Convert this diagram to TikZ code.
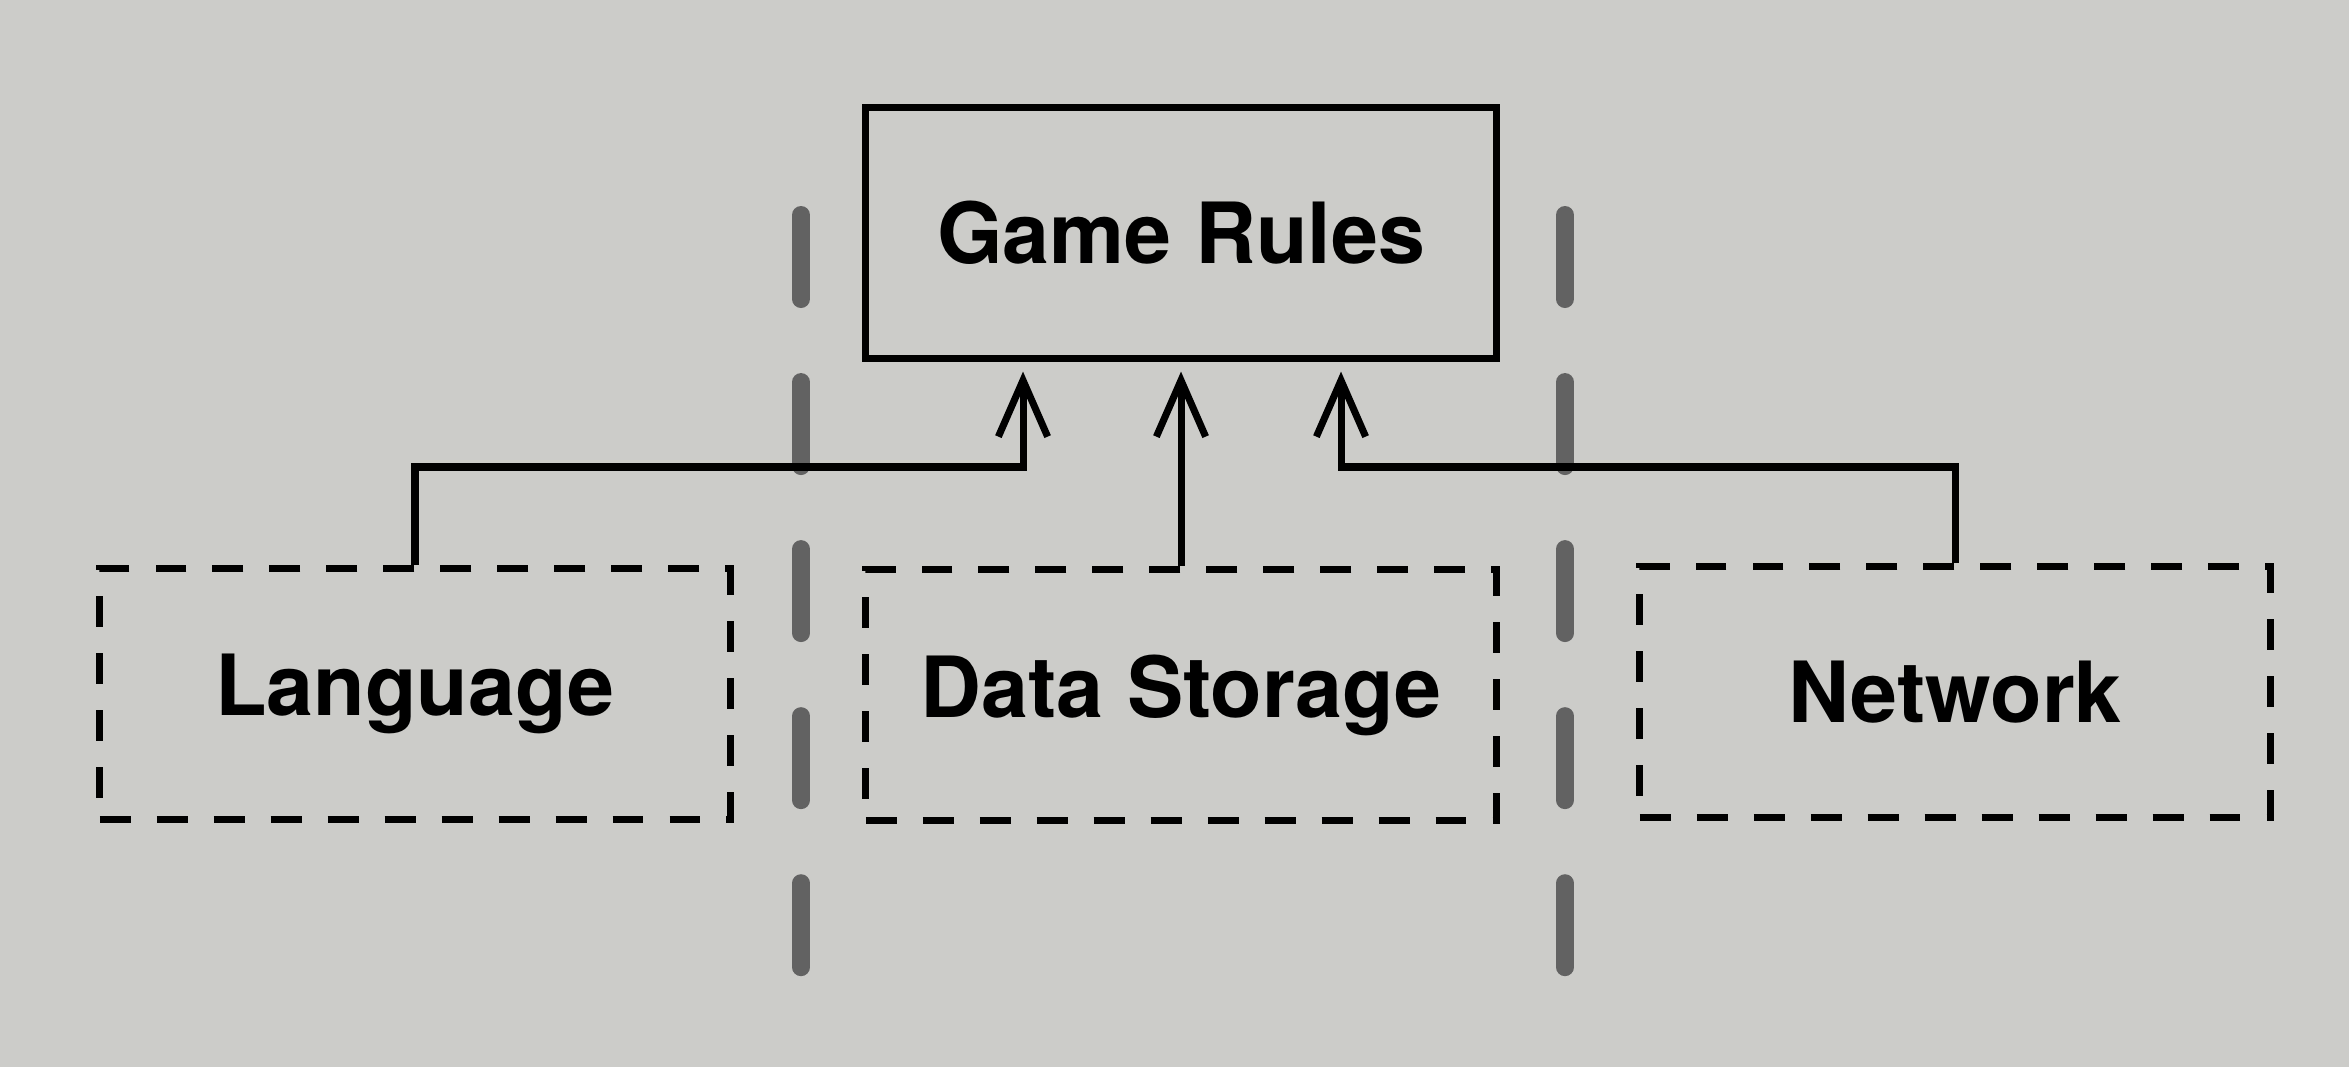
\documentclass[tikz,border=0pt]{standalone}
\usepackage{fontspec}
\setmainfont{TeX Gyre Heros}
\usetikzlibrary{arrows.meta}
\definecolor{paper}{RGB}{204,204,201}
\definecolor{sep}{RGB}{98,98,98}
\tikzset{
  solidbox/.style={draw=black, line width=2pt, minimum width=6.3cm, minimum height=2.5cm, inner sep=0pt, font=\fontsize{24}{28}\selectfont\bfseries},
  dashbox/.style={solidbox, dash pattern=on 8.8pt off 7.4pt},
  conn/.style={draw=black, line width=2pt, -{Straight Barb[length=16pt,width=14pt,line width=2pt]}, shorten >=0.1cm},
  sepline/.style={draw=sep, line width=5.1pt, line cap=round, dash pattern=on 23.9pt off 23.6pt}
}
\begin{document}
\begin{tikzpicture}[x=0.01cm,y=-0.01cm]
\fill[paper] (0,0) rectangle (2349,1067);
\useasboundingbox (0,0) rectangle (2349,1067);
% separators
\coordinate (s1t) at (801,215);
\coordinate (s1b) at (801,975);
\coordinate (s2t) at (1565,215);
\coordinate (s2b) at (1565,975);
\draw[sepline] (s1t) -- (s1b);
\draw[sepline] (s2t) -- (s2b);
% boxes
\node[solidbox] (gr) at (1181,233) {Game Rules};
\node[dashbox] (lang) at (415,694) {Language};
\node[dashbox] (ds) at (1181,695) {Data Storage};
\node[dashbox] (net) at (1955,692) {Network};
% junctions
\coordinate (j1) at (1023,467);
\coordinate (j3) at (1341,467);
% connectors
\draw[conn] (lang.north) |- (j1) -- (gr.south -| j1);
\draw[conn] (ds.north) -- (gr.south);
\draw[conn] (net.north) |- (j3) -- (gr.south -| j3);
\end{tikzpicture}
\end{document}
